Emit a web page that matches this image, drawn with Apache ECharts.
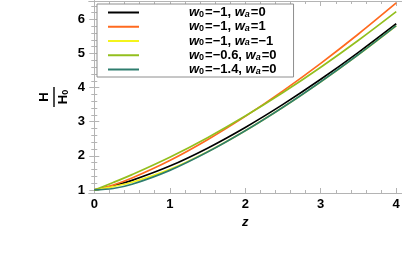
<!DOCTYPE html>
<html><head><meta charset="utf-8">
<script src="https://cdn.jsdelivr.net/npm/echarts@6/dist/echarts.min.js"></script>
<style>html,body{margin:0;padding:0;background:#fff}#c{width:409px;height:268px}</style>
</head><body><div id="c"></div>
<script>
// ---- data ----
const zValues = [0, 0.25, 0.5, 1, 1.5, 2, 2.5, 3, 3.5, 4];
const hBlack  = [1, 1.121, 1.281, 1.700, 2.225, 2.832, 3.508, 4.244, 5.033, 5.872];
const hOrange = [1, 1.144, 1.348, 1.861, 2.471, 3.156, 3.905, 4.712, 5.573, 6.483];
const hYellow = [1, 1.099, 1.224, 1.603, 2.122, 2.737, 3.424, 4.170, 4.969, 5.815];
const hGreen  = [1, 1.217, 1.449, 1.959, 2.532, 3.165, 3.855, 4.597, 5.389, 6.228];
const hTeal   = [1, 1.042, 1.166, 1.574, 2.112, 2.736, 3.426, 4.174, 4.972, 5.819];
const legendW0 = ['\u22121', '\u22121', '\u22121', '\u22120.6', '\u22121.4'];
const legendWa = ['0', '1', '\u22121', '0', '0'];
const seriesColors = ['#000000', '#FF6A1F', '#F4F41C', '#93BF1E', '#2E7D6E'];
const xTickLabels = [0, 1, 2, 3, 4];
const xMinorTicks = [0.2,0.4,0.6,0.8,1.2,1.4,1.6,1.8,2.2,2.4,2.6,2.8,3.2,3.4,3.6,3.8];
const yTickLabels = [1, 2, 3, 4, 5, 6];
const yMinorTicks = [1.2,1.4,1.6,1.8,2.2,2.4,2.6,2.8,3.2,3.4,3.6,3.8,4.2,4.4,4.6,4.8,5.2,5.4,5.6,5.8,6.2,6.4];

const curves = [hBlack, hOrange, hYellow, hGreen, hTeal];
const names = legendW0.map((w0, i) => 'w0=' + w0 + ', wa=' + legendWa[i]);

const FONT = 'Liberation Sans';
const frameColor = '#b4b4b4';
const xR = [-0.07, 4.07], yR = [0.91, 6.54];

function xAx(pos, vals, len, labels) {
  return {
    type: 'value', position: pos, min: xR[0], max: xR[1],
    axisLine: { show: true, lineStyle: { color: frameColor, width: 1 } },
    axisTick: { show: true, inside: true, length: len, customValues: vals, lineStyle: { color: frameColor } },
    axisLabel: labels ? { show: true, customValues: labels, color: '#000', fontFamily: FONT, fontWeight: 'bold', fontSize: 13, margin: 5 } : { show: false },
    splitLine: { show: false }
  };
}
function yAx(pos, vals, len, labels) {
  return {
    type: 'value', position: pos, min: yR[0], max: yR[1],
    axisLine: { show: true, lineStyle: { color: frameColor, width: 1 } },
    axisTick: { show: true, inside: true, length: len, customValues: vals, lineStyle: { color: frameColor } },
    axisLabel: labels ? { show: true, customValues: labels, color: '#000', fontFamily: FONT, fontWeight: 'bold', fontSize: 13, margin: 4 } : { show: false },
    splitLine: { show: false }
  };
}

const xAxes = [xAx('bottom', xTickLabels, 5, xTickLabels), xAx('bottom', xMinorTicks, 3), xAx('top', xTickLabels, 5), xAx('top', xMinorTicks, 3)];
xAxes[0].name = 'z';
xAxes[0].nameLocation = 'middle';
xAxes[0].nameGap = 23;
xAxes[0].nameTextStyle = { fontFamily: FONT, fontWeight: 'bold', fontStyle: 'italic', fontSize: 13, color: '#000' };
const yAxes = [yAx('left', yTickLabels, 5, yTickLabels), yAx('left', yMinorTicks, 3), yAx('right', yTickLabels, 5), yAx('right', yMinorTicks, 3)];

const series = curves.map((h, i) => ({
  name: names[i], type: 'line', xAxisIndex: 0, yAxisIndex: 0,
  data: zValues.map((z, j) => [z, h[j]]),
  smooth: 0.35, symbol: 'none', showSymbol: false,
  lineStyle: { color: seriesColors[i], width: 1.7 }, itemStyle: { color: seriesColors[i] },
  z: 2 + i, animation: false
}));

const chart = echarts.init(document.getElementById('c'), null, { renderer: 'canvas' });
chart.setOption({
  animation: false,
  backgroundColor: '#fff',
  grid: { left: 89, top: 1, right: 7.5, bottom: 75, containLabel: false },
  xAxis: xAxes,
  yAxis: yAxes,
  legend: {
    orient: 'vertical', left: 97, top: 4,
    backgroundColor: '#fff', borderColor: '#8e8e8e', borderWidth: 1, borderRadius: 0,
    padding: [2, 17, 1, 11],
    icon: 'rect', itemWidth: 31, itemHeight: 2, itemGap: 1.25,
    data: names,
    formatter: function (name) {
      const i = names.indexOf(name);
      return '{w1|w}{s|0}{t|=' + legendW0[i] + ', }{w|w}{sa|a}{t|=' + legendWa[i] + '}';
    },
    textStyle: {
      rich: {
        w1: { fontFamily: FONT, fontWeight: 'bold', fontStyle: 'italic', fontSize: 13, color: '#000', lineHeight: 13, padding: [0, 0, 0, 45] },
        w: { fontFamily: FONT, fontWeight: 'bold', fontStyle: 'italic', fontSize: 13, color: '#000', lineHeight: 13 },
        s: { fontFamily: FONT, fontWeight: 'bold', fontSize: 9, color: '#000', verticalAlign: 'bottom', lineHeight: 7, padding: [0, 1, 0, 0] },
        sa: { fontFamily: FONT, fontWeight: 'bold', fontStyle: 'italic', fontSize: 9, color: '#000', verticalAlign: 'bottom', lineHeight: 7, padding: [0, 1, 0, 0] },
        t: { fontFamily: FONT, fontWeight: 'bold', fontSize: 13, color: '#000', lineHeight: 13 }
      }
    }
  },
  graphic: [{
    type: 'group', x: 54, y: 97, rotation: Math.PI / 2,
    children: [
      { type: 'text', x: 0, y: -3, style: { text: 'H', fontFamily: FONT, fontWeight: 'bold', fontSize: 13, fill: '#000', align: 'center', verticalAlign: 'bottom' } },
      { type: 'line', shape: { x1: -10, y1: 0, x2: 10, y2: 0 }, style: { stroke: '#000', lineWidth: 1.4 } },
      { type: 'text', x: 0, y: 3, style: { text: '{h|H}{s|0}', align: 'center', verticalAlign: 'top',
          rich: { h: { fontFamily: FONT, fontWeight: 'bold', fontSize: 13, fill: '#000', lineHeight: 13 },
                  s: { fontFamily: FONT, fontWeight: 'bold', fontSize: 9, fill: '#000', lineHeight: 7, verticalAlign: 'bottom' } } } }
    ]
  }],
  series: series
});
</script>
</body></html>
